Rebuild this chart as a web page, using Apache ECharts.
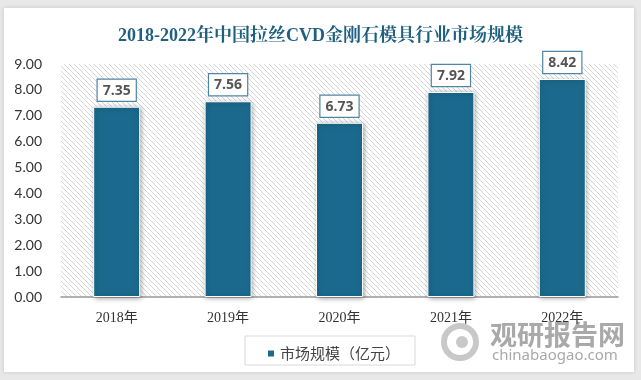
<!DOCTYPE html>
<html><head><meta charset="utf-8">
<script src="https://cdn.jsdelivr.net/npm/echarts@6/dist/echarts.min.js"></script>
<style>html,body{margin:0;padding:0;background:#e8e8e8;}#c{width:641px;height:380px;}</style>
</head><body><div id="c"></div>
<script>
var categories = ['2018年','2019年','2020年','2021年','2022年'];
var values = [7.35, 7.56, 6.73, 7.92, 8.42];
var yTicks = {min: 0, max: 9, interval: 1};
var seriesName = '市场规模（亿元）';
var titleText = '2018-2022年中国拉丝CVD金刚石模具行业市场规模';

// hatch pattern
var pc = document.createElement('canvas');
pc.width = 5; pc.height = 5;
var pctx = pc.getContext('2d');
pctx.fillStyle = '#ffffff'; pctx.fillRect(0,0,5,5);
pctx.strokeStyle = '#d6d6d6'; pctx.lineWidth = 1;
pctx.beginPath();
pctx.moveTo(-1,-1); pctx.lineTo(6,6);
pctx.moveTo(-4,1); pctx.lineTo(4,9);
pctx.moveTo(1,-4); pctx.lineTo(9,4);
pctx.stroke();

var chart = echarts.init(document.getElementById('c'), null, {renderer:'canvas'});
chart.setOption({
  backgroundColor: '#e8e8e8',
  animation: false,
  graphic: [
    {type:'rect', z:-10, shape:{x:4,y:8,width:630,height:364}, style:{fill:'#ffffff', shadowBlur:4, shadowColor:'rgba(0,0,0,0.15)'}},
    {type:'rect', z:-5, shape:{x:245,y:336,width:170,height:29}, style:{fill:'#ffffff', stroke:'#d9d9d9', lineWidth:1}},
    {type:'text', left:490, top:321, style:{text:'观研报告网', font:'bold 27px "Noto Sans CJK SC"', fill:'#a9a9a9'}},
    {type:'text', left:492, top:348, style:{text:'chinabaogao.com', font:'15px "Noto Sans"', fill:'#a9a9a9'}},
    {type:'circle', shape:{cx:460,cy:342,r:16}, style:{fill:'none', stroke:'#c8c8c8', lineWidth:6}},
    {type:'circle', shape:{cx:462,cy:342,r:6}, style:{fill:'#c8c8c8'}}
  ],
  title: {
    text: titleText, left: 'center', top: 22,
    textStyle: {fontFamily:'"Liberation Serif","Noto Serif CJK SC","Noto Sans CJK SC",serif', fontSize:18, fontWeight:'bold', color:'#1f5f80'}
  },
  legend: {
    data:[seriesName], left: 261, top: 341, itemWidth: 8, itemHeight: 8, icon:'rect', itemGap: 6,
    textStyle:{fontFamily:'"Noto Sans CJK SC"', fontSize:15, color:'#444'}
  },
  grid: {left:61, right:23, top:64, bottom:83, show:true, borderWidth:0, backgroundColor:{image: pc, repeat:'repeat'}},
  xAxis: {
    type:'category', data: categories,
    axisLine:{lineStyle:{color:'#999', width:1.5}}, axisTick:{show:false},
    axisLabel:{fontFamily:'"Liberation Serif","Noto Sans CJK SC",serif', fontSize:14, color:'#333', margin:14}
  },
  yAxis: {
    type:'value', min:yTicks.min, max:yTicks.max, interval:yTicks.interval,
    axisLine:{show:false}, axisTick:{show:false}, splitLine:{show:false},
    axisLabel:{formatter:function(v){return v.toFixed(2);}, fontFamily:'Lato', fontSize:14, color:'#333', margin:19}
  },
  series: [{
    name: seriesName, type:'bar', data: values, barWidth: 47,
    itemStyle:{color:'#1b6a8d', borderColor:'#ffffff', borderWidth:1, shadowBlur:5, shadowColor:'rgba(0,0,0,0.35)', shadowOffsetX:1, shadowOffsetY:1},
    label:{show:true, position:'top', distance:6, formatter:function(p){return p.value.toFixed(2);},
      backgroundColor:'#ffffff', borderColor:'#4f86a6', borderWidth:1.2, padding:[4,5,3,5],
      fontFamily:'"Open Sans"', fontWeight:'bold', fontSize:14, color:'#555'}
  }]
});
</script></body></html>
